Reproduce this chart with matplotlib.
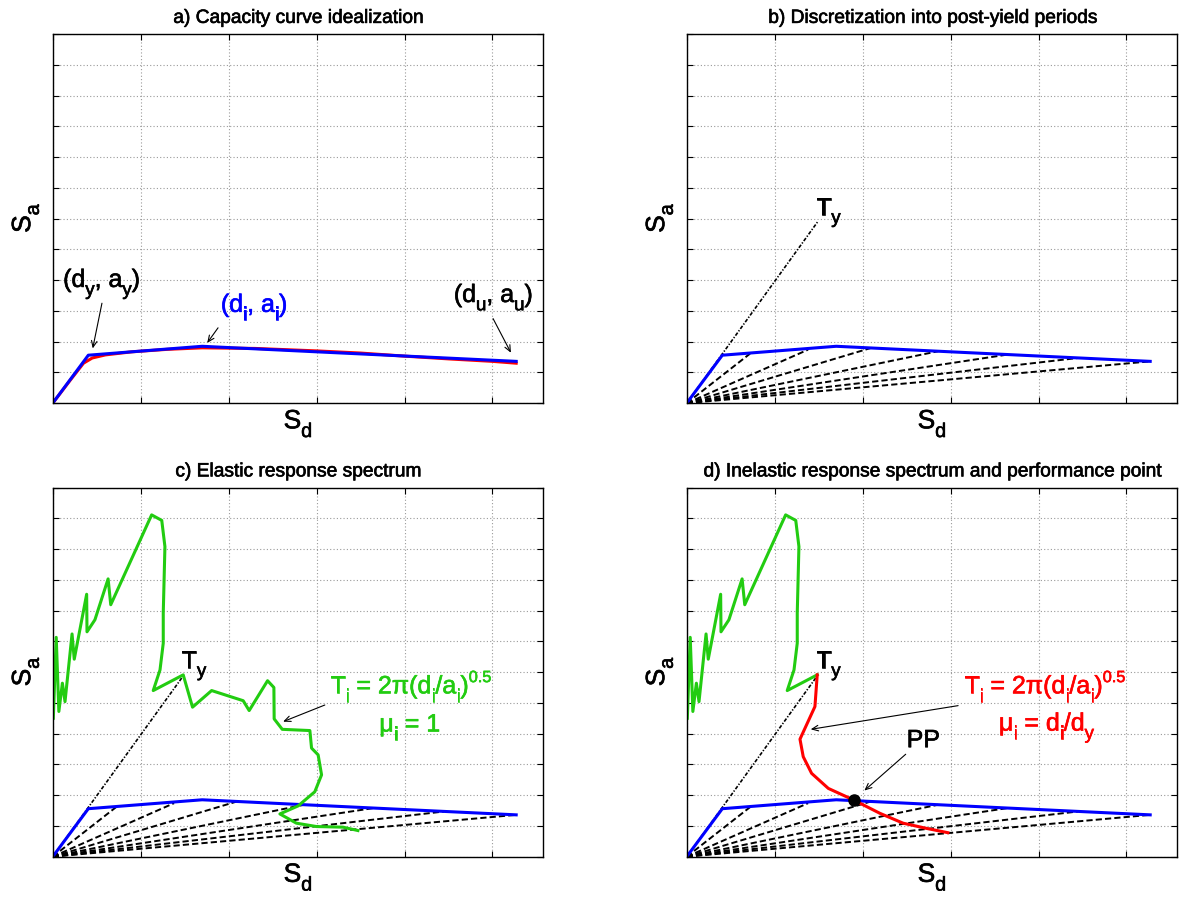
import matplotlib
matplotlib.use("Agg")
import matplotlib.pyplot as plt
import matplotlib.patheffects as pe

plt.rcParams['font.family'] = ['Liberation Sans', 'DejaVu Sans']

# ---------------- data ----------------
# capacity curve (red) and its idealization (blue)
cap_x = [0.0, 0.20, 0.35, 0.45, 0.60, 0.90, 1.30, 1.70, 2.30, 3.00, 3.50, 4.00, 4.50, 5.00, 5.27]
cap_y = [0.0, 0.75, 1.30, 1.47, 1.57, 1.67, 1.75, 1.80, 1.78, 1.70, 1.63, 1.53, 1.44, 1.36, 1.30]

ideal_x = [0.0, 0.405, 1.70, 3.00, 5.27]
ideal_y = [0.0, 1.56, 1.85, 1.67, 1.36]

# discretization points (post-yield periods)
disc_x = [0.72, 1.38, 2.10, 2.86, 3.67, 4.45, 5.27]
disc_y = [1.61, 1.74, 1.80, 1.69, 1.59, 1.47, 1.36]

# yield period line
ty_x = [0.0, 1.49]
ty_y = [0.0, 5.90]

# elastic response spectrum (Sa-Sd format)
el_x = [0.007, 0.04, 0.07, 0.11, 0.14, 0.22, 0.245, 0.386, 0.39, 0.48, 0.63, 0.66,
        1.125, 1.24, 1.276, 1.257, 1.257, 1.22, 1.143, 1.484,
        1.59, 1.807, 2.166, 2.234, 2.443, 2.515, 2.518, 2.61, 2.924, 2.943, 3.018,
        3.057, 2.98, 2.79, 2.583, 2.77, 3.00, 3.30, 3.47]
el_y = [4.50, 7.13, 4.72, 5.64, 5.04, 7.24, 6.42, 8.53, 7.31, 7.70, 9.03, 8.19,
        11.11, 10.93, 10.08, 7.92, 6.94, 6.07, 5.40, 5.91,
        4.86, 5.40, 5.07, 4.75, 5.72, 5.50, 4.48, 4.14, 4.10, 3.53, 3.31,
        2.66, 2.11, 1.65, 1.39, 1.09, 0.98, 0.96, 0.85]
n_el_to_ty = 20  # points up to T_y

# inelastic response spectrum
inel_x = [1.484, 1.458, 1.288, 1.325, 1.42, 1.61, 1.90, 2.197, 2.46, 2.727, 2.97]
inel_y = [5.91, 4.88, 3.82, 3.25, 2.71, 2.22, 1.84, 1.41, 1.09, 0.92, 0.78]

pp_x = [1.90]
pp_y = [1.84]

titles = ['a) Capacity curve idealization',
          'b) Discretization into post-yield periods',
          'c) Elastic response spectrum',
          'd) Inelastic response spectrum and performance point']

XMAX = 5.577
YMAX = 12
BLUE = '#0000ff'
RED = '#ff0000'
GREEN = '#22cc11'
FS = 18.0

fig = plt.figure(figsize=(11.79, 9.0), dpi=100)
W, H = 1179.0, 900.0
boxes = [(52.7, 34.0), (686.7, 34.0), (52.7, 487.5), (686.7, 487.5)]
aw, ah = 490.5, 369.2
axes = []
for (lx, ty) in boxes:
    ax = fig.add_axes([lx / W, 1 - (ty + ah) / H, aw / W, ah / H])
    axes.append(ax)

renderer = fig.canvas.get_renderer()


def thick(color):
    return [pe.withStroke(linewidth=0.45, foreground=color)]


def parse(s):
    out, buf, i = [], '', 0
    while i < len(s):
        c = s[i]
        if c in '_^':
            if buf:
                out.append((buf, 'n'))
                buf = ''
            kind = 'sub' if c == '_' else 'sup'
            if s[i + 1] == '{':
                j = s.index('}', i)
                out.append((s[i + 2:j], kind))
                i = j + 1
            else:
                out.append((s[i + 1], kind))
                i += 2
        else:
            buf += c
            i += 1
    if buf:
        out.append((buf, 'n'))
    return out


def measure(s, fs):
    st = s.strip(' ')
    nsp = len(s) - len(st)
    w = 0.0
    if st:
        t = fig.text(0, 0, st, fontsize=fs)
        w = t.get_window_extent(renderer).width * 72.0 / fig.dpi
        t.remove()
    return w + nsp * 0.278 * fs


SUB_SCALE, SUB_DROP = 0.75, 0.33
SUP_SCALE, SUP_RISE = 0.65, 0.45


def rich(ax, x, y, s, fs=FS, color='k', ha='center', transform=None, rotation=0):
    import math
    if transform is None:
        transform = ax.transData
    parts = parse(s)
    items = []
    for txt, kind in parts:
        if kind == 'n':
            f, dy = fs, 0.0
        elif kind == 'sub':
            f, dy = fs * SUB_SCALE, -fs * SUB_DROP
        else:
            f, dy = fs * SUP_SCALE, fs * SUP_RISE
        items.append((txt, f, dy, measure(txt, f)))
    total = sum(it[3] for it in items)
    pen = -total / 2 if ha == 'center' else 0.0
    th = math.radians(rotation)
    ca, sa = math.cos(th), math.sin(th)
    for txt, f, dy, w in items:
        lead = len(txt) - len(txt.lstrip(' '))
        px = pen + lead * 0.278 * f
        ox = px * ca - dy * sa
        oy = px * sa + dy * ca
        if txt.strip(' '):
            ax.annotate(txt.strip(' '), xy=(x, y), xycoords=transform,
                        xytext=(ox, oy), textcoords='offset points',
                        fontsize=f, color=color, ha='left', va='baseline',
                        rotation=rotation, rotation_mode='anchor',
                        path_effects=thick(color), annotation_clip=False)
        pen += w


for ax, t in zip(axes, titles):
    ax.set_xlim(0, XMAX)
    ax.set_ylim(0, YMAX)
    ax.set_xticks(range(0, 6))
    ax.set_yticks(range(0, 13))
    ax.set_xticklabels([])
    ax.set_yticklabels([])
    ax.tick_params(direction='in', length=4, width=0.8, top=True, right=True)
    ax.grid(True, linestyle=(0, (1, 2)), color='#9a9a9a', linewidth=0.8)
    ax.set_axisbelow(True)
    for s in ax.spines.values():
        s.set_linewidth(1.0)
    ax.set_title(t, fontsize=13.8, pad=8, path_effects=thick('k'))
    rich(ax, 0.5, -0.068, 'S_d', fs=19, transform=ax.transAxes)
    rich(ax, -0.046, 0.5, 'S_a', fs=19, transform=ax.transAxes, rotation=90)

ARW = dict(arrowstyle='->,head_length=0.45,head_width=0.2', lw=0.8, color='k',
           shrinkA=0, shrinkB=0)
DASH = (0, (3.2, 1.6))
DASHDOT = (0, (2.2, 1.0, 0.8, 1.0))

# ---- a ----
ax = axes[0]
ax.plot(cap_x, cap_y, color=RED, lw=2.2)
ax.plot(ideal_x, ideal_y, color=BLUE, lw=2.2)
ax.annotate('', xy=(0.455, 1.78), xytext=(0.56, 3.25), arrowprops=ARW)
ax.annotate('', xy=(1.757, 1.96), xytext=(1.88, 2.45), arrowprops=ARW)
ax.annotate('', xy=(5.21, 1.64), xytext=(5.007, 2.75), arrowprops=ARW)
rich(ax, 0.556, 3.78, '(d_y, a_y)')
rich(ax, 2.29, 2.97, '(d_i, a_i)', color=BLUE)
rich(ax, 5.01, 3.29, '(d_u, a_u)')


def discretize(ax):
    for xx, yy in zip(disc_x, disc_y):
        ax.plot([0, xx], [0, yy], color='k', lw=1.4, linestyle=DASH)
    ax.plot(ty_x, ty_y, color='k', lw=1.2, linestyle=DASHDOT)
    ax.plot(ideal_x, ideal_y, color=BLUE, lw=2.2)


# ---- b ----
ax = axes[1]
discretize(ax)
rich(ax, 1.47, 6.12, 'T_y', ha='left')

# ---- c ----
ax = axes[2]
discretize(ax)
ax.plot(el_x, el_y, color=GREEN, lw=2.2)
rich(ax, 1.466, 6.13, 'T_y', ha='left')
ax.annotate('', xy=(2.62, 4.39), xytext=(3.094, 4.93), arrowprops=ARW)
rich(ax, 4.07, 5.31, 'T_i = 2\u03c0(d_i/a_i)^{0.5}', color=GREEN)
rich(ax, 4.06, 4.07, '\u03bc_i = 1', color=GREEN)

# ---- d ----
ax = axes[3]
discretize(ax)
ax.plot(el_x[:n_el_to_ty], el_y[:n_el_to_ty], color=GREEN, lw=2.2)
ax.plot(inel_x, inel_y, color=RED, lw=2.2)
ax.plot(pp_x, pp_y, 'o', color='k', markersize=8)
rich(ax, 1.47, 6.13, 'T_y', ha='left')
ax.annotate('', xy=(1.41, 4.14), xytext=(3.086, 4.91), arrowprops=ARW)
rich(ax, 4.07, 5.31, 'T_i = 2\u03c0(d_i/a_i)^{0.5}', color=RED)
rich(ax, 4.09, 4.10, '\u03bc_i = d_i/d_y', color=RED)
ax.annotate('', xy=(2.02, 2.15), xytext=(2.49, 3.33), arrowprops=ARW)
rich(ax, 2.69, 3.56, 'PP')

fig.savefig('out.png', dpi=100)
